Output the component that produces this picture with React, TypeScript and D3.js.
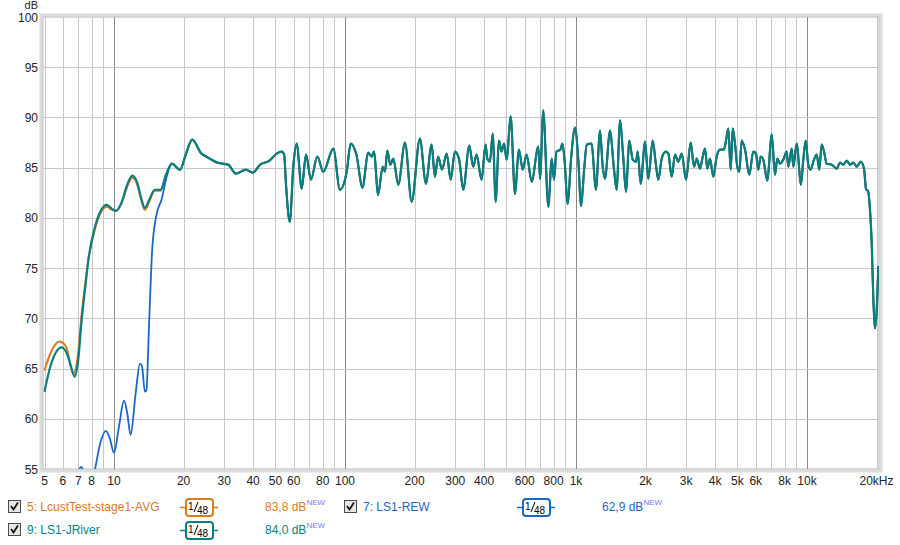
import React, { useRef, useEffect } from 'react';
import * as d3 from 'd3';

type Pt = [number, number];

// 9: LS1-JRiver, frequency (Hz) / level (dB)
const jriverLow: Pt[] = [
  [5, 62.7], [5.3, 65.2], [5.6, 66.6], [5.93, 67.1], [6.3, 66.3], [6.55, 65.0], [6.75, 64.2],
  [7.0, 65.9], [7.24, 69.8], [7.5, 73.0], [7.74, 75.8], [8.27, 79.1], [8.8, 80.8], [9.3, 81.3],
  [9.8, 80.9], [10.2, 80.7], [10.8, 81.6], [11.4, 83.3], [12.0, 84.2], [12.6, 83.5], [13.1, 82.0],
  [13.6, 81.0], [14.2, 81.8], [15.0, 82.8], [15.9, 82.8], [16.8, 84.3], [17.8, 85.4], [19.3, 84.8],
  [20.5, 86.4], [21.8, 87.8], [23.9, 86.4], [25.1, 86.1], [28.0, 85.5], [31.2, 85.3], [33.7, 84.4],
  [37.2, 84.8], [39.9, 84.5], [42.9, 85.3], [47.1, 85.7], [50.6, 86.4], [53.2, 86.6], [54.5, 86.3],
  [55.5, 83.4], [57.7, 79.6], [59.7, 85.1]
];

const jriverMid: Pt[] = [
  [61.8, 87.4], [64.9, 82.9], [67.8, 86.3], [71.2, 83.8], [75.9, 86.1], [80.5, 84.6], [89, 86.9],
  [95, 82.8], [101.7, 84.6], [105.8, 87.4], [112, 86.3], [119, 83.0], [126, 86.5], [130.5, 86.1],
  [133.5, 86.6], [139, 82.3], [145.6, 85.1], [149, 84.6], [152.4, 86.7], [157, 85.3], [161.8, 85.9],
  [170, 83.3], [181.8, 87.5], [194.3, 81.6], [211, 87.9], [224, 83.4], [237, 87.3], [245, 84.1],
  [253, 86.1], [263, 84.8], [275.5, 86.4], [286.7, 83.8], [299, 86.6], [312, 85.8], [325, 82.8],
  [345, 87.2], [359, 85.1], [371, 86.3], [390, 83.8], [406, 87.3], [413, 85.9], [424, 85.6],
  [436, 88.4], [449, 81.6], [464, 87.7], [476, 86.6], [488, 87.4], [501, 85.8], [521.6, 90.1],
  [544, 82.4], [566, 86.8], [588, 84.8], [611, 86.3], [643, 83.6], [686.5, 87.1], [699, 83.9],
  [721, 90.7], [759, 81.1], [785, 85.9], [803, 83.8], [823, 86.6], [856, 86.8], [873, 87.4],
  [892, 85.8], [920, 81.4], [952, 85.9], [990, 89.0]
];

const jriverHigh: Pt[] = [
  [1023, 85.8], [1051, 81.2], [1087, 85.1], [1113, 87.3], [1167, 87.4], [1220, 82.8], [1270, 88.7],
  [1305, 85.1], [1335, 83.9], [1403, 88.7], [1461, 84.8], [1500, 82.8], [1550, 89.7], [1603, 85.9],
  [1646, 82.6], [1701, 87.7], [1760, 85.8], [1820, 85.6], [1849, 86.6], [1906, 83.4], [1990, 87.6],
  [2056, 83.9], [2148, 87.7], [2218, 85.3], [2271, 83.8], [2350, 85.9], [2445, 86.6], [2510, 86.4],
  [2596, 84.1], [2683, 86.3], [2772, 85.6], [2869, 86.4], [2994, 83.8], [3137, 87.5], [3243, 85.1],
  [3331, 85.9], [3443, 84.9], [3537, 86.1], [3618, 86.9], [3702, 84.9], [3802, 85.9], [3930, 84.1],
  [4064, 86.1], [4201, 86.8], [4371, 86.8], [4461, 87.7], [4564, 88.9], [4675, 84.8], [4769, 88.9],
  [4879, 87.4], [4992, 85.1], [5093, 84.6], [5216, 87.7], [5391, 86.8], [5626, 84.3], [5854, 86.6],
  [6014, 86.4], [6152, 84.8], [6302, 86.1], [6469, 85.8], [6732, 83.7], [7035, 88.3], [7270, 84.3],
  [7438, 85.9], [7641, 85.4], [7897, 85.8], [8168, 86.6], [8299, 85.1], [8586, 86.9], [8724, 85.1],
  [9023, 87.4], [9419, 83.3], [9638, 85.8], [9872, 87.7], [10130, 85.3], [10375, 84.8], [10650, 85.6],
  [11015, 86.3], [11303, 84.8], [11577, 87.3], [11847, 86.6], [12172, 85.4], [12794, 85.3],
  [13448, 84.9], [13898, 85.5], [14362, 85.3], [14858, 85.7], [15355, 85.3], [15869, 85.5],
  [16415, 85.1], [17083, 85.6], [17654, 84.9], [18008, 82.9], [18427, 82.6], [18740, 80.8],
  [19061, 77.5], [19364, 72.1], [19697, 69.0], [20034, 70.8], [20360, 75.2]
];

// 5: LcustTest-stage1-AVG, where it differs from the JRiver trace
const avgLow: Pt[] = [
  [5, 64.8], [5.3, 66.5], [5.8, 67.7], [6.2, 67.2], [6.66, 64.5], [7.0, 66.6], [7.24, 70.4],
  [7.5, 73.4], [7.74, 75.8], [8.27, 78.9], [8.8, 80.6], [9.3, 81.1], [9.8, 80.8], [10.2, 80.7],
  [10.8, 81.5], [11.4, 83.1], [12.0, 84.0], [12.6, 83.3], [13.1, 81.8], [13.6, 80.8], [14.2, 81.6],
  [15.0, 82.7], [15.9, 82.7], [16.8, 84.3]
];

// 7: LS1-REW, where it differs from the JRiver trace
const rewLow: Pt[] = [
  [6.6, 53.5], [6.95, 54.6], [7.2, 55.2], [7.45, 54.6], [7.9, 53.5], [8.27, 55.0], [8.7, 57.5],
  [9.23, 58.8], [9.6, 58.0], [10.0, 56.6], [10.5, 59.2], [11.05, 61.8], [11.4, 60.6], [11.8, 58.4],
  [12.4, 62.5], [12.95, 65.5], [13.2, 65.3], [13.6, 62.7], [13.8, 62.8], [14.2, 69.8], [14.6, 76.5],
  [15.2, 80.1], [16.1, 81.9], [16.9, 84.1]
];

const yTicks = [55, 60, 65, 70, 75, 80, 85, 90, 95, 100];
const xLabelFreqs = [5, 6, 7, 8, 10, 20, 30, 40, 50, 60, 80, 100, 200, 300, 400, 600, 800,
  1000, 2000, 3000, 4000, 5000, 6000, 8000, 10000, 20000];
const xLabelTexts = ['5', '6', '7', '8', '10', '20', '30', '40', '50', '60', '80', '100', '200', '300',
  '400', '600', '800', '1k', '2k', '3k', '4k', '5k', '6k', '8k', '10k', '20kHz'];

const legendNames = ['5: LcustTest-stage1-AVG', '7: LS1-REW', '9: LS1-JRiver'];
const legendValues = ['83,8 dB', '62,9 dB', '84,0 dB'];
const seriesColors = ['#db7a1e', '#1a67c4', '#0a7f7f'];

const FONT = '"Liberation Sans", Arial, sans-serif';

const App: React.FC = () => {
  const svgRef = useRef<SVGSVGElement>(null);

  useEffect(() => {
    if (!svgRef.current) return;
    const svg = d3.select(svgRef.current);
    svg.selectAll('*').remove();

    const left = 43, right = 879, top = 17, bottom = 469;

    const x = d3.scaleLog().domain([5, 20500]).range([44.5, right]);
    const y = d3.scaleLinear().domain([55, 100]).range([bottom, top]);

    const jriver = [...jriverLow, ...jriverMid, ...jriverHigh];
    const avg = [...avgLow, ...jriver.filter(d => d[0] > 17)];
    const rew = [...rewLow, ...jriver.filter(d => d[0] > 17)];

    // frame with soft shadow
    svg.append('rect')
      .attr('x', left - 2).attr('y', top - 2)
      .attr('width', right - left + 4).attr('height', bottom - top + 4)
      .attr('fill', 'none').attr('stroke', '#dcdcdc').attr('stroke-width', 3);
    svg.append('rect')
      .attr('x', left).attr('y', top)
      .attr('width', right - left).attr('height', bottom - top)
      .attr('fill', '#fff').attr('stroke', '#b8b8b8').attr('stroke-width', 1);

    // vertical grid
    const gridFreqs: number[] = [];
    for (let dec = 1; dec <= 10000; dec *= 10) {
      for (let m = 1; m <= 9; m++) {
        const f = m * dec;
        if (f >= 5 && f <= 20000) gridFreqs.push(f);
      }
    }
    svg.append('g')
      .selectAll('line')
      .data(gridFreqs)
      .join('line')
      .attr('x1', d => Math.round(x(d)) + 0.5)
      .attr('x2', d => Math.round(x(d)) + 0.5)
      .attr('y1', top)
      .attr('y2', bottom)
      .attr('stroke', d => ([10, 100, 1000, 10000].includes(d) ? '#8a8a8a' : '#c8c8c8'))
      .attr('stroke-width', 1);

    // horizontal grid
    svg.append('g')
      .selectAll('line')
      .data(yTicks.filter(t => t > 55 && t < 100))
      .join('line')
      .attr('x1', left)
      .attr('x2', right)
      .attr('y1', d => Math.round(y(d)) + 0.5)
      .attr('y2', d => Math.round(y(d)) + 0.5)
      .attr('stroke', '#c8c8c8');

    // y labels
    svg.append('g')
      .selectAll('text')
      .data(yTicks)
      .join('text')
      .attr('x', 38)
      .attr('y', d => y(d) + 4.5)
      .attr('text-anchor', 'end')
      .attr('font-family', FONT)
      .attr('font-size', 12)
      .attr('fill', '#222')
      .text(d => d);

    svg.append('text')
      .attr('x', 38).attr('y', 9)
      .attr('text-anchor', 'end')
      .attr('font-family', FONT).attr('font-size', 11).attr('fill', '#222')
      .text('dB');

    // x labels
    svg.append('g')
      .selectAll('text')
      .data(xLabelFreqs)
      .join('text')
      .attr('x', d => x(d))
      .attr('y', 485)
      .attr('text-anchor', 'middle')
      .attr('font-family', FONT)
      .attr('font-size', 12)
      .attr('fill', '#222')
      .text((d, i) => xLabelTexts[i]);

    // traces
    svg.append('clipPath').attr('id', 'plot-clip')
      .append('rect')
      .attr('x', left).attr('y', top)
      .attr('width', right - left).attr('height', bottom - top);

    const line = d3.line<Pt>()
      .x(d => x(d[0]))
      .y(d => y(d[1]))
      .curve(d3.curveMonotoneX);

    const traces: [Pt[], string, number][] = [
      [avg, seriesColors[0], 2],
      [rew, seriesColors[1], 1.8],
      [jriver, seriesColors[2], 2.2]
    ];
    const plot = svg.append('g').attr('clip-path', 'url(#plot-clip)');
    traces.forEach(([data, color, w]) => {
      plot.append('path')
        .datum(data)
        .attr('fill', 'none')
        .attr('stroke', color)
        .attr('stroke-width', w)
        .attr('stroke-linejoin', 'round')
        .attr('d', line);
    });

    // legend
    const legendPos = [
      { cx: 8, cy: 500, box: 180, val: 265 },
      { cx: 344, cy: 500, box: 517, val: 602 },
      { cx: 8, cy: 523, box: 180, val: 265 }
    ];
    legendNames.forEach((name, i) => {
      const p = legendPos[i];
      const color = seriesColors[i];
      const g = svg.append('g');
      // checkbox
      g.append('rect')
        .attr('x', p.cx + 0.5).attr('y', p.cy + 0.5)
        .attr('width', 12).attr('height', 12)
        .attr('fill', '#e6e6e6').attr('stroke', '#4a4a4a');
      g.append('path')
        .attr('d', `M${p.cx + 3},${p.cy + 6} L${p.cx + 5.5},${p.cy + 9.5} L${p.cx + 10},${p.cy + 2.5}`)
        .attr('fill', 'none').attr('stroke', '#111').attr('stroke-width', 1.8);
      g.append('text')
        .attr('x', p.cx + 19).attr('y', p.cy + 11)
        .attr('font-family', FONT).attr('font-size', 12).attr('fill', color)
        .text(name);
      // smoothing badge
      const bx = p.box, by = p.cy - 1;
      g.append('line')
        .attr('x1', bx).attr('x2', bx + 38)
        .attr('y1', by + 8.5).attr('y2', by + 8.5)
        .attr('stroke', color).attr('stroke-width', 1.5);
      g.append('rect')
        .attr('x', bx + 6).attr('y', by)
        .attr('width', 27).attr('height', 17).attr('rx', 3)
        .attr('fill', '#fff').attr('stroke', color).attr('stroke-width', 2);
      g.append('text')
        .attr('x', bx + 8).attr('y', by + 11)
        .attr('font-family', FONT).attr('font-size', 10).attr('fill', '#000')
        .text('1');
      g.append('line')
        .attr('x1', bx + 14).attr('y1', by + 13)
        .attr('x2', bx + 18).attr('y2', by + 3)
        .attr('stroke', '#000').attr('stroke-width', 1);
      g.append('text')
        .attr('x', bx + 17).attr('y', by + 15)
        .attr('font-family', FONT).attr('font-size', 10).attr('fill', '#000')
        .text('48');
      // value
      const vt = g.append('text')
        .attr('x', p.val).attr('y', p.cy + 11)
        .attr('font-family', FONT).attr('font-size', 12).attr('fill', color)
        .text(legendValues[i]);
      const w = (vt.node() as SVGTextElement).getComputedTextLength();
      g.append('text')
        .attr('x', p.val + w).attr('y', p.cy + 5)
        .attr('font-family', FONT).attr('font-size', 8).attr('fill', '#7878ff')
        .text('NEW');
    });
  }, []);

  return (
    <svg
      ref={svgRef}
      width={900}
      height={545}
      style={{ position: 'absolute', left: 0, top: 0, background: '#fff' }}
    />
  );
};

export default App;
